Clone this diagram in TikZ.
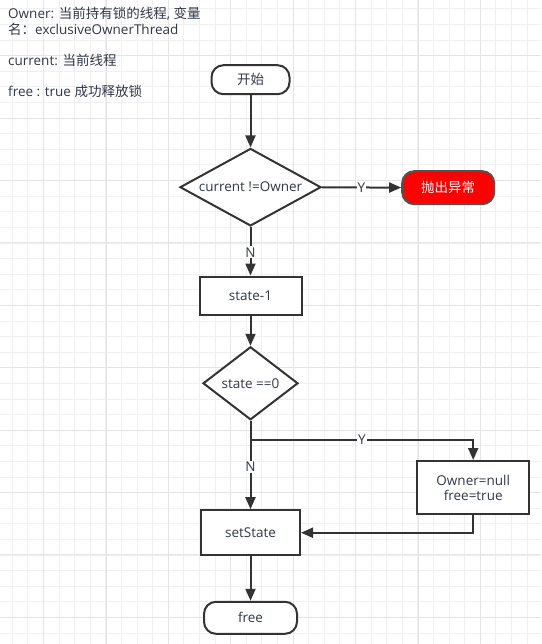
\documentclass[tikz,border=0pt]{standalone}
\usepackage{fontspec}
\setmainfont{Open Sans}
\newfontfamily\cjk{Noto Sans CJK SC}
\usetikzlibrary{shapes.geometric,arrows.meta}
\definecolor{linec}{HTML}{333333}
\definecolor{textc}{HTML}{303848}
\definecolor{gridmin}{HTML}{F0F0F0}
\definecolor{gridmaj}{HTML}{E4E4E4}
\tikzset{
  basefont/.style={font=\fontsize{13.5}{15}\selectfont},
  box/.style={draw=linec, line width=2pt, fill=white, text=textc, basefont, inner sep=0pt, align=center},
  term/.style={box, rounded corners=12pt},
  dia/.style={box, diamond},
  arr/.style={draw=linec, line width=2pt, -{Triangle[length=12pt,width=10pt]}},
  lab/.style={fill=white, text=textc, inner sep=1pt, basefont},
  note/.style={text=textc, basefont, anchor=west, inner sep=0pt},
}
\begin{document}
\begin{tikzpicture}[x=1pt,y=-1pt]
\useasboundingbox (0,0) rectangle (541,644);
\fill[white] (0,0) rectangle (541,644);
% grid
\foreach \i in {0,...,34} \draw[gridmin, line width=1pt] ({12.3+15.6*\i},0) -- ({12.3+15.6*\i},644);
\foreach \j in {0,...,40} \draw[gridmin, line width=1pt] (0,{9+15.6*\j}) -- (541,{9+15.6*\j});
\foreach \i in {0,...,7} \draw[gridmaj, line width=1pt] ({43.7+62.4*\i},0) -- ({43.7+62.4*\i},644);
\foreach \j in {0,...,9} \draw[gridmaj, line width=1pt] (0,{55.7+62.4*\j}) -- (541,{55.7+62.4*\j});

% notes
\node[note] (n1) at (8,14) {Owner: {\cjk 当前持有锁的线程}, {\cjk 变量}};
\node[note] (n2) at (8,29) {{\cjk 名：}exclusiveOwnerThread};
\node[note] (n3) at (8,60) {current: {\cjk 当前线程}};
\node[note] (n4) at (8,91) {free : true {\cjk 成功释放锁}};

% nodes
\node[term, minimum width=78pt, minimum height=29pt] (start) at (250.5,79.7) {\cjk 开始};
\node[dia, minimum width=141pt, minimum height=77.5pt, shape aspect=1.82] (d1) at (250.5,187.2) {current !=Owner};
\node[term, fill=red, text=white, draw=linec!85, minimum width=92pt, minimum height=33pt] (err) at (448.2,187.7) {\cjk 抛出异常};
\node[box, minimum width=102pt, minimum height=38pt] (s1) at (250.5,295.5) {state-1};
\node[dia, minimum width=95pt, minimum height=73pt, shape aspect=1.3] (d2) at (250.5,383.3) {state ==0};
\node[box, minimum width=112pt, minimum height=53pt] (own) at (473.2,487.5) {Owner=null\\free=true};
\node[box, minimum width=99pt, minimum height=45pt] (set) at (250.5,532.7) {setState};
\node[term, minimum width=93pt, minimum height=32pt] (free) at (250.5,617.8) {free};
\coordinate (br) at (250.5,440);

% connectors
\draw[arr] (start) -- (d1);
\draw[arr] (d1) -- node[lab]{Y} (err);
\draw[arr] (d1) -- node[lab, pos=0.52]{N} (s1);
\draw[arr] (s1) -- (d2);
\draw[arr] (d2) -- node[lab, pos=0.52]{N} (set);
\draw[arr] (br) -- node[lab]{Y} (br -| own) -- (own);
\draw[arr] (own) |- (set);
\draw[arr] (set) -- (free);
\end{tikzpicture}
\end{document}
